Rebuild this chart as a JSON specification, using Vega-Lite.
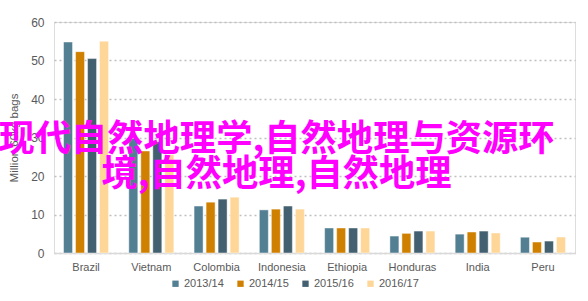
{
  "$schema": "https://vega.github.io/schema/vega-lite/v6.json",
  "width": 521,
  "height": 231,
  "autosize": {"type": "none"},
  "padding": {"left": 54, "top": 22, "right": 13, "bottom": 48},
  "background": "white",
  "title": {
    "text": ["现代自然地理学,自然地理与资源环", "境,自然地理,自然地理"],
    "font": "Noto Sans CJK SC",
    "fontSize": 36.3,
    "fontWeight": "bold",
    "color": "#ff00ff",
    "lineHeight": 35,
    "anchor": "middle",
    "frame": "group",
    "orient": "top",
    "baseline": "top",
    "offset": 0,
    "dx": -38,
    "dy": 177
  },
  "data": {
    "values": [
      {"country": "Brazil", "year": "2013/14", "v": 54.8},
      {"country": "Brazil", "year": "2014/15", "v": 52.3},
      {"country": "Brazil", "year": "2015/16", "v": 50.5},
      {"country": "Brazil", "year": "2016/17", "v": 55.0},
      {"country": "Vietnam", "year": "2013/14", "v": 29.8},
      {"country": "Vietnam", "year": "2014/15", "v": 26.5},
      {"country": "Vietnam", "year": "2015/16", "v": 28.9},
      {"country": "Vietnam", "year": "2016/17", "v": 25.5},
      {"country": "Colombia", "year": "2013/14", "v": 12.2},
      {"country": "Colombia", "year": "2014/15", "v": 13.2},
      {"country": "Colombia", "year": "2015/16", "v": 14.0},
      {"country": "Colombia", "year": "2016/17", "v": 14.5},
      {"country": "Indonesia", "year": "2013/14", "v": 11.2},
      {"country": "Indonesia", "year": "2014/15", "v": 11.4},
      {"country": "Indonesia", "year": "2015/16", "v": 12.2},
      {"country": "Indonesia", "year": "2016/17", "v": 11.4},
      {"country": "Ethiopia", "year": "2013/14", "v": 6.5},
      {"country": "Ethiopia", "year": "2014/15", "v": 6.5},
      {"country": "Ethiopia", "year": "2015/16", "v": 6.5},
      {"country": "Ethiopia", "year": "2016/17", "v": 6.5},
      {"country": "Honduras", "year": "2013/14", "v": 4.4},
      {"country": "Honduras", "year": "2014/15", "v": 5.1},
      {"country": "Honduras", "year": "2015/16", "v": 5.7},
      {"country": "Honduras", "year": "2016/17", "v": 5.7},
      {"country": "India", "year": "2013/14", "v": 4.9},
      {"country": "India", "year": "2014/15", "v": 5.45},
      {"country": "India", "year": "2015/16", "v": 5.7},
      {"country": "India", "year": "2016/17", "v": 5.2},
      {"country": "Peru", "year": "2013/14", "v": 4.1},
      {"country": "Peru", "year": "2014/15", "v": 2.85},
      {"country": "Peru", "year": "2015/16", "v": 3.1},
      {"country": "Peru", "year": "2016/17", "v": 4.15}
    ]
  },
  "mark": {"type": "bar", "stroke": "white", "strokeOpacity": 0.45, "strokeWidth": 1},
  "encoding": {
    "x": {
      "field": "country",
      "type": "nominal",
      "sort": null,
      "scale": {"paddingInner": 0.31, "paddingOuter": 0.146},
      "axis": {
        "title": null,
        "labelAngle": 0,
        "labelFont": "Arial, Liberation Sans",
        "labelFontSize": 11,
        "labelColor": "#595959",
        "labelPadding": 8,
        "ticks": false,
        "domainColor": "#d9d9d9",
        "domainWidth": 1.5
      }
    },
    "xOffset": {
      "field": "year",
      "type": "nominal",
      "scale": {"paddingInner": 0.25, "paddingOuter": 0}
    },
    "y": {
      "field": "v",
      "type": "quantitative",
      "scale": {"domain": [0, 60]},
      "axis": {
        "title": "Million 60kg bags",
        "titleFont": "Arial, Liberation Sans",
        "titleFontSize": 11.5,
        "titleFontWeight": "normal",
        "titleColor": "#595959",
        "titlePadding": 11,
        "values": [0, 10, 20, 30, 40, 50, 60],
        "labelFont": "Arial, Liberation Sans",
        "labelFontSize": 12,
        "labelColor": "#595959",
        "labelPadding": 10,
        "domain": false,
        "ticks": false,
        "grid": true,
        "gridColor": "#bfbfbf",
        "gridDash": [2, 3],
        "gridWidth": 1.5
      }
    },
    "color": {
      "field": "year",
      "type": "nominal",
      "scale": {
        "domain": ["2013/14", "2014/15", "2015/16", "2016/17"],
        "range": ["#537f93", "#d08000", "#42606f", "#fed697"]
      },
      "legend": {
        "title": null,
        "orient": "none",
        "direction": "horizontal",
        "legendX": 116,
        "legendY": 256,
        "symbolType": "square",
        "symbolSize": 40,
        "symbolStrokeWidth": 0,
        "labelFont": "Arial, Liberation Sans",
        "labelFontSize": 11,
        "labelColor": "#595959",
        "labelOffset": 3,
        "columnPadding": 11
      }
    }
  }
}
